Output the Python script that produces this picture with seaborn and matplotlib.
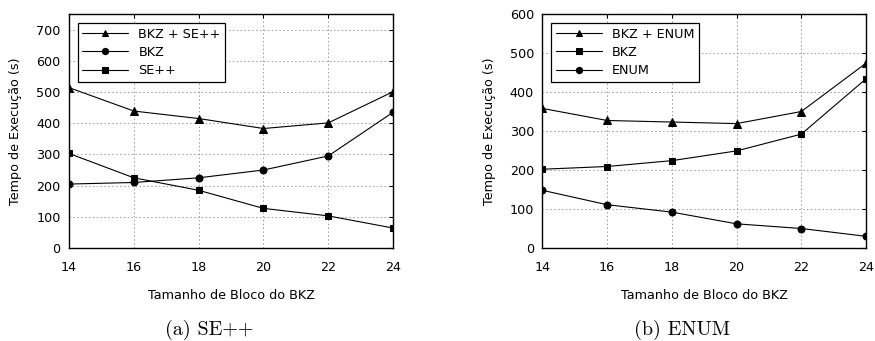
import matplotlib
matplotlib.use("Agg")
import matplotlib.pyplot as plt
import seaborn as sns
import pandas as pd

block_sizes = [14, 16, 18, 20, 22, 24]

# (a) SE++
se_combined = [514, 439, 415, 383, 401, 501]
se_bkz = [205, 210, 225, 250, 295, 435]
se_only = [303, 225, 185, 127, 103, 64]

# (b) ENUM
enum_combined = [358, 327, 323, 319, 350, 474]
enum_bkz = [202, 209, 224, 249, 292, 434]
enum_only = [148, 111, 92, 62, 50, 30]

sns.set_style("white")
plt.rcParams["font.family"] = ["DejaVu Sans"]
plt.rcParams["font.size"] = 9
plt.rcParams["text.color"] = "black"
plt.rcParams["axes.labelcolor"] = "black"

FS = 9.2


def _draw_panel(ax, series, ymax, caption):
    for label, values, marker, msize in series:
        df = pd.DataFrame({"x": block_sizes, "y": values})
        sns.lineplot(data=df, x="x", y="y", ax=ax, color="black", linewidth=0.8,
                     marker=marker, markersize=msize, markeredgecolor="black",
                     label=label)

    ax.set_xlim(14, 24)
    ax.set_ylim(0, ymax)
    ax.set_xticks(block_sizes)
    ax.set_yticks(range(0, ymax + 1, 100))
    ax.grid(True, color="#999999", linestyle=(0, (1.5, 2.5)), linewidth=0.7)
    for spine in ax.spines.values():
        spine.set_color("black")
        spine.set_linewidth(1.0)
    ax.tick_params(direction="in", length=3, width=0.8, labelsize=FS, top=True, right=True,
                   colors="black")
    ax.tick_params(axis="x", pad=9)
    ax.tick_params(axis="y", pad=6)
    ax.set_xlabel("Tamanho de Bloco do BKZ", fontsize=FS, labelpad=11)
    ax.set_ylabel("Tempo de Execução (s)", fontsize=FS, labelpad=10)

    leg = ax.legend(loc="upper left", bbox_to_anchor=(0.027, 0.96), fancybox=False,
                    edgecolor="black", framealpha=1, fontsize=FS, handlelength=3.6,
                    handletextpad=0.8, borderpad=0.35, labelspacing=0.4,
                    borderaxespad=0, markerscale=0.9)
    leg.get_frame().set_linewidth(0.9)

    ax.text(0.432, -0.35, caption, transform=ax.transAxes, ha="center", va="center",
            fontfamily="cmr10", fontsize=14.5)


fig = plt.figure(figsize=(8.75, 3.41), dpi=100)
ax_a = fig.add_axes([0.0789, 0.2727, 0.3703, 0.6862])
ax_b = fig.add_axes([0.6198, 0.2727, 0.3700, 0.6862])

_draw_panel(ax_a, [
    ("BKZ + SE++", se_combined, "^", 5.5),
    ("BKZ", se_bkz, "o", 5),
    ("SE++", se_only, "s", 5),
], 750, "(a) SE++")
ax_a.set_yticks(range(0, 701, 100))

_draw_panel(ax_b, [
    ("BKZ + ENUM", enum_combined, "^", 5.5),
    ("BKZ", enum_bkz, "s", 5),
    ("ENUM", enum_only, "o", 5),
], 600, "(b) ENUM")

fig.savefig("out.png", dpi=100)
